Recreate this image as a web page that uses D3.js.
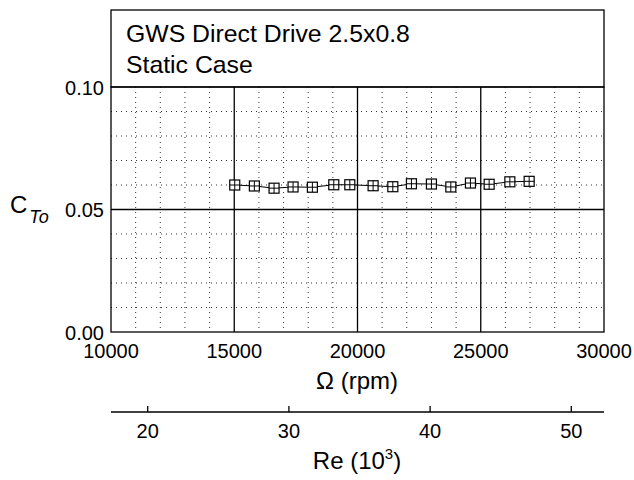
<!DOCTYPE html>
<html>
<head>
<meta charset="utf-8">
<script src="https://cdn.jsdelivr.net/npm/d3@7"></script>
<style>
  body { margin: 0; background: #fff; }
  svg text { font-family: "Liberation Sans", Arial, sans-serif; fill: #000; }
</style>
</head>
<body>
<div id="chart"></div>
<script>
// rotational speed (rpm) and static thrust coefficient
const rpm = [15020, 15816, 16615, 17386, 18170, 19038, 19688, 20633,
             21433, 22188, 22999, 23786, 24582, 25341, 26181, 26964];
const cto = [0.0600, 0.0596, 0.0587, 0.0592, 0.0591, 0.0601, 0.0601, 0.0597,
             0.0593, 0.0605, 0.0604, 0.0592, 0.0608, 0.0603, 0.0613, 0.0615];
const xTicks = [10000, 15000, 20000, 25000, 30000];
const yTicks = [0.00, 0.05, 0.10];
const reTicks = [20, 30, 40, 50];
const titleLines = ["GWS Direct Drive 2.5x0.8", "Static Case"];

const width = 634, height = 480;
const plot = { left: 111, right: 604, top: 87, bottom: 332 };

const svg = d3.select("#chart").append("svg")
    .attr("width", width)
    .attr("height", height);

const x = d3.scaleLinear().domain([10000, 30000]).range([plot.left, plot.right]);
const y = d3.scaleLinear().domain([0, 0.1]).range([plot.bottom, plot.top]);
// Reynolds number axis shares the pixel span, 20..50 at fixed positions
const re = d3.scaleLinear().domain([20, 50]).range([147.7, 571.3]);

// minor dotted grid
const minorX = d3.range(10000, 30001, 1000).filter(v => v % 5000 !== 0);
const minorY = d3.range(1, 10).map(i => i / 100).filter(v => Math.abs(v - 0.05) > 1e-9);

svg.append("g").selectAll("line")
    .data(minorX)
    .join("line")
    .attr("x1", d => x(d)).attr("x2", d => x(d))
    .attr("y1", plot.top).attr("y2", plot.bottom)
    .attr("stroke", "#333").attr("stroke-width", 1)
    .attr("stroke-dasharray", "1,4");

svg.append("g").selectAll("line")
    .data(minorY)
    .join("line")
    .attr("x1", plot.left).attr("x2", plot.right)
    .attr("y1", d => y(d)).attr("y2", d => y(d))
    .attr("stroke", "#333").attr("stroke-width", 1)
    .attr("stroke-dasharray", "1,4");

// major grid
svg.append("g").selectAll("line")
    .data(xTicks.slice(1, -1))
    .join("line")
    .attr("x1", d => x(d)).attr("x2", d => x(d))
    .attr("y1", plot.top).attr("y2", plot.bottom)
    .attr("stroke", "#000").attr("stroke-width", 1.3);

svg.append("line")
    .attr("x1", plot.left).attr("x2", plot.right)
    .attr("y1", y(0.05)).attr("y2", y(0.05))
    .attr("stroke", "#000").attr("stroke-width", 1.3);

// plot frame
svg.append("rect")
    .attr("x", plot.left).attr("y", plot.top)
    .attr("width", plot.right - plot.left).attr("height", plot.bottom - plot.top)
    .attr("fill", "none").attr("stroke", "#000").attr("stroke-width", 1.3);

// title box
svg.append("rect")
    .attr("x", plot.left).attr("y", 10)
    .attr("width", plot.right - plot.left).attr("height", plot.top - 10)
    .attr("fill", "none").attr("stroke", "#000").attr("stroke-width", 1.3);

svg.append("g").selectAll("text")
    .data(titleLines)
    .join("text")
    .attr("x", 126)
    .attr("y", (d, i) => 42 + i * 30.5)
    .attr("font-size", 24.8)
    .text(d => d);

// tick labels
svg.append("g").selectAll("text")
    .data(yTicks)
    .join("text")
    .attr("x", 104)
    .attr("y", d => y(d) + 7.5)
    .attr("text-anchor", "end")
    .attr("font-size", 20)
    .text(d => d.toFixed(2));

svg.append("g").selectAll("text")
    .data(xTicks)
    .join("text")
    .attr("x", d => x(d))
    .attr("y", 358)
    .attr("text-anchor", "middle")
    .attr("font-size", 20)
    .text(d => d);

// axis titles
svg.append("text")
    .attr("x", 357).attr("y", 389)
    .attr("text-anchor", "middle")
    .attr("font-size", 24)
    .text("\u03A9 (rpm)");

const yLabel = svg.append("text")
    .attr("x", 10).attr("y", 213)
    .attr("font-size", 24);
yLabel.append("tspan").text("C");
yLabel.append("tspan")
    .attr("dy", 10).attr("dx", 2)
    .attr("font-size", 18)
    .attr("font-style", "italic")
    .text("To");

// Reynolds number axis
const reAxis = svg.append("g").attr("transform", "translate(0,412)");
reAxis.append("line")
    .attr("x1", plot.left).attr("x2", plot.right)
    .attr("stroke", "#000").attr("stroke-width", 1.3);
reAxis.selectAll("line.tick")
    .data(reTicks)
    .join("line")
    .attr("class", "tick")
    .attr("x1", d => re(d)).attr("x2", d => re(d))
    .attr("y1", 0).attr("y2", -6)
    .attr("stroke", "#000").attr("stroke-width", 1.3);
reAxis.selectAll("text")
    .data(reTicks)
    .join("text")
    .attr("x", d => re(d))
    .attr("y", 25.5)
    .attr("text-anchor", "middle")
    .attr("font-size", 20)
    .text(d => d);

const reLabel = svg.append("text")
    .attr("x", 357).attr("y", 469)
    .attr("text-anchor", "middle")
    .attr("font-size", 24);
reLabel.append("tspan").text("Re (10");
reLabel.append("tspan").attr("dy", -10).attr("font-size", 15).text("3");
reLabel.append("tspan").attr("dy", 10).text(")");

// data series
const points = rpm.map((r, i) => ({ r, c: cto[i] }));

svg.append("path")
    .datum(points)
    .attr("fill", "none")
    .attr("stroke", "#000")
    .attr("stroke-width", 1)
    .attr("d", d3.line().x(d => x(d.r)).y(d => y(d.c)));

const m = 5;
const markers = svg.append("g").selectAll("g")
    .data(points)
    .join("g")
    .attr("transform", d => `translate(${x(d.r)},${y(d.c)})`);
markers.append("rect")
    .attr("x", -m).attr("y", -m)
    .attr("width", 2 * m).attr("height", 2 * m)
    .attr("fill", "#fff").attr("stroke", "#000").attr("stroke-width", 1.2);
markers.append("path")
    .attr("d", `M${-m},0H${m}M0,${-m}V${m}`)
    .attr("stroke", "#000").attr("stroke-width", 1);
</script>
</body>
</html>
